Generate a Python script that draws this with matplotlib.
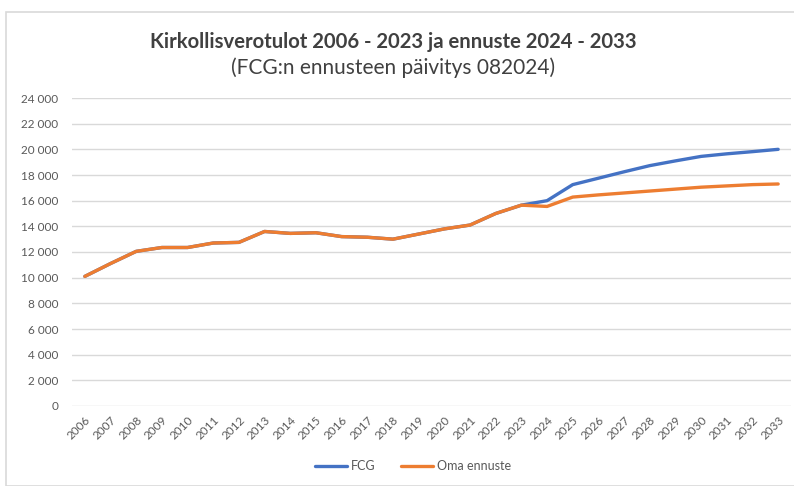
import matplotlib.pyplot as plt
from matplotlib.patches import Rectangle
from matplotlib.ticker import FuncFormatter

years = list(range(2006, 2034))
fcg = [10100, 11100, 12050, 12350, 12350, 12700, 12750, 13600, 13450, 13500,
       13200, 13150, 13000, 13400, 13800, 14100, 15000, 15650,
       16000, 17250, 17750, 18250, 18730, 19100, 19450, 19650, 19820, 20000]
oma = [10100, 11100, 12050, 12350, 12350, 12700, 12750, 13600, 13450, 13500,
       13200, 13150, 13000, 13400, 13800, 14100, 15000, 15650,
       15550, 16280, 16450, 16600, 16750, 16900, 17050, 17150, 17250, 17300]
yticks = list(range(0, 24001, 2000))

plt.rcParams['font.family'] = ['Lato', 'DejaVu Sans']

fig = plt.figure(figsize=(7.94, 4.86), dpi=100)
fig.patches.append(Rectangle((6/794, 0), 1, 1 - 12/486, transform=fig.transFigure,
                             fill=False, edgecolor='#d9d9d9', lw=1.2))

ax = fig.add_axes([72/794, 1 - 406/486, (791 - 72)/794, (406 - 98)/486])
x = range(len(years))
ax.plot(x, fcg, color='#4472C4', lw=2.4, label='FCG', solid_capstyle='round')
ax.plot(x, oma, color='#ED7D31', lw=2.4, label='Oma ennuste', solid_capstyle='round')

ax.set_xlim(-0.5, len(years) - 0.5)
ax.set_ylim(0, 24000)
ax.set_yticks(yticks)
ax.yaxis.set_major_formatter(FuncFormatter(lambda v, p: f'{int(v):,}'.replace(',', ' ')))
ax.set_xticks(list(x))
ax.set_xticklabels([str(y) for y in years], rotation=45, ha='right', rotation_mode='anchor')
ax.tick_params(axis='both', length=0, labelsize=8.5, colors='#595959')
ax.tick_params(axis='x', pad=6)
ax.tick_params(axis='y', pad=10)
ax.grid(axis='y', color='#d9d9d9', lw=1)
ax.set_axisbelow(True)
for s in ax.spines.values():
    s.set_visible(False)

fig.text(0.495, 1 - 42/486, 'Kirkollisverotulot 2006 - 2023 ja ennuste 2024 - 2033',
         ha='center', va='center', fontsize=14.6, fontweight='bold', color='#404040')
fig.text(0.495, 1 - 68/486, '(FCG:n ennusteen päivitys 082024)',
         ha='center', va='center', fontsize=15, color='#404040')

fig.legend(loc='center', bbox_to_anchor=(0.52, 1 - 466/486), ncol=2, frameon=False,
           fontsize=9, handlelength=2.6, handletextpad=0.3, columnspacing=2,
           labelcolor='#595959')

fig.savefig('out.png', dpi=100)
